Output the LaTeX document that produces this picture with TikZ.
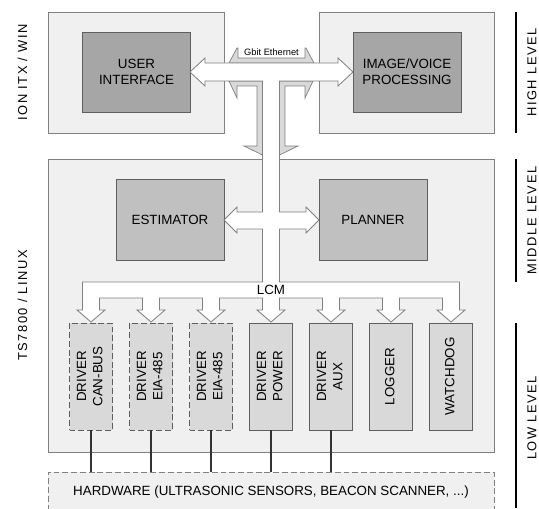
\documentclass[tikz,border=0pt]{standalone}
\usepackage{graphicx}
\usepackage{fontspec}
\setmainfont{Liberation Sans}
\newfontfamily\spacedfont[LetterSpace=12]{Liberation Sans}
\usepackage{tikz}
\usetikzlibrary{arrows}

\definecolor{paneFill}{HTML}{F0F0F0}
\definecolor{paneLine}{HTML}{808080}
\definecolor{appFill}{HTML}{A6A6A6}
\definecolor{coreFill}{HTML}{C0C0C0}
\definecolor{taskFill}{HTML}{D9D9D9}
\definecolor{boxLine}{HTML}{5F5F5F}

% two lines of text turned upright
\newcommand{\vlab}[1]{\rotatebox{90}{\begin{tabular}{@{}c@{}}#1\end{tabular}}}

\begin{document}
\begin{tikzpicture}[
            x = 0.03cm, y = -0.03cm, % one unit = one pixel
            line join = miter,
            pane/.style = {draw = paneLine, fill = paneFill, line width = 0.7pt},
            appbox/.style = {draw = boxLine, fill = appFill, line width = 0.7pt,
                minimum width = 3.26cm, minimum height = 2.4cm, align = center},
            corebox/.style = {draw = boxLine, fill = coreFill, line width = 0.7pt,
                minimum width = 3.24cm, minimum height = 2.43cm},
            taskbox/.style = {draw = boxLine, fill = taskFill, line width = 0.7pt,
                minimum width = 1.29cm, minimum height = 3.21cm, inner sep = 0pt},
            optbox/.style = {taskbox, dashed, dash pattern = on 5pt off 2.5pt},
            shade/.style = {draw = paneLine, fill = taskFill, line width = 0.6pt},
            bus/.style = {draw = paneLine, fill = white, line width = 0.7pt},
            wire/.style = {draw = black!80, line width = 1pt},
            levelbar/.style = {draw = black, line width = 1.4pt},
            side/.style = {rotate = 90, font = \spacedfont\fontsize{11}{13}\selectfont},
            every node/.style = {font = \fontsize{11.4}{14}\selectfont}
        ]

        \useasboundingbox (0,0) rectangle (539,508);

        % high level panes
        \node[pane, minimum width = 5.28cm, minimum height = 3.63cm] (ion) at (136,72.5) {};
        \node[pane, minimum width = 5.25cm, minimum height = 3.63cm] (vis) at (406.5,72.5) {};
        \node[appbox] (ui) at (136.5,72) {USER\\INTERFACE};
        \node[appbox, minimum width = 3.24cm] (img) at (407,72) {IMAGE/VOICE\\PROCESSING};

        % TS7800 pane
        \node[pane, minimum width = 13.38cm, minimum height = 8.79cm] (ts) at (271,305.5) {};
        \node[corebox] (est) at (170,219.5) {ESTIMATOR};
        \node[corebox] (plan) at (373,219.5) {PLANNER};

        % low level tasks
        \node[optbox] (can) at (91,376.5) {\vlab{DRIVER\\CAN-BUS}};
        \node[optbox] (eiaA) at (151,376.5) {\vlab{DRIVER\\EIA-485}};
        \node[optbox] (eiaB) at (211,376.5) {\vlab{DRIVER\\EIA-485}};
        \node[taskbox] (pwr) at (271,376.5) {\vlab{DRIVER\\POWER}};
        \node[taskbox] (aux) at (331,376.5) {\vlab{DRIVER\\AUX}};
        \node[taskbox] (log) at (391,376.5) {\vlab{LOGGER}};
        \node[taskbox] (wdog) at (451,376.5) {\vlab{WATCHDOG}};

        \node[pane, dashed, dash pattern = on 5pt off 2.5pt,
            minimum width = 13.38cm, minimum height = 1.26cm] (hw) at (271,493) {};
        \node (hwtext) at (271,492) {HARDWARE (ULTRASONIC SENSORS, BEACON SCANNER, ...)};

        \foreach \t in {can, eiaA, eiaB, pwr, aux}
            \draw[wire] (\t.south) -- (\t.south |- hw.north);

        % shading round the ethernet junction
        \draw[shade] (229,63) -- (237,48) -- (238,48) -- (238,58) -- (305,58)
            -- (305,48) -- (306,48) -- (314,63) -- cycle;
        \draw[shade] (229,81) -- (237,98) -- (237,86) -- (257,86) -- (257,146)
            -- (244,146) -- (262.5,155) -- (262.5,81) -- cycle;
        \draw[shade] (313,81) -- (305,98) -- (305,86) -- (285,86) -- (285,146)
            -- (298,146) -- (279.5,155) -- (279.5,81) -- cycle;

        % ethernet and LCM bus as one block arrow
        \draw[bus] (190,72) -- (205,58) -- (205,63) -- (338,63) -- (338,58)
            -- (353,72) -- (338,86) -- (338,81) -- (279.5,81)
            -- (279.5,212) -- (306,212) -- (306,207) -- (319,220) -- (306,233)
            -- (306,229) -- (279.5,229) -- (279.5,282) -- (459.5,282)
            \foreach \c in {451,391,331,271,211,151,91} {
                -- ({\c+8.5},298) -- ({\c+8.5},310) -- ({\c+14},310) -- (\c,322)
                -- ({\c-14},310) -- ({\c-8.5},310) -- ({\c-8.5},298)
            }
            -- (82.5,282) -- (262.5,282) -- (262.5,229) -- (237,229) -- (237,233)
            -- (224,220) -- (237,207) -- (237,212) -- (262.5,212) -- (262.5,81)
            -- (205,81) -- (205,86) -- cycle;

        \node[font = \fontsize{7.9}{9}\selectfont] (eth) at (271.5,52) {Gbit Ethernet};
        \node (lcm) at (271,290) {LCM};

        % side labels
        \node[side] (win) at (22.5,72.5) {ION ITX / WIN};
        \node[side] (linux) at (22.5,305.5) {TS7800 / LINUX};

        \draw[levelbar] (516,12) -- (516,133);
        \draw[levelbar] (516,159) -- (516,282);
        \draw[levelbar] (516,323) -- (516,508);
        \node[side] (high) at (532,72.5) {HIGH LEVEL};
        \node[side] (mid) at (532,220.5) {MIDDLE LEVEL};
        \node[side] (low) at (532,418) {LOW LEVEL};

  \end{tikzpicture}
\end{document}
